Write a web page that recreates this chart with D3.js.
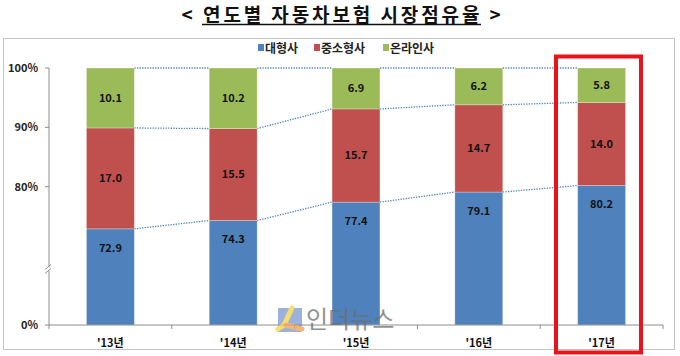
<!DOCTYPE html>
<html><head><meta charset="utf-8">
<script src="https://cdn.jsdelivr.net/npm/d3@7/dist/d3.min.js"></script>
<style>
body{margin:0;background:#fff;}
svg{display:block;font-family:"Noto Sans CJK KR","Noto Sans",sans-serif;}
</style></head>
<body><svg id="c" width="680" height="356"></svg>
<script>
const years = ["'13년","'14년","'15년","'16년","'17년"];
const large = [72.9, 74.3, 77.4, 79.1, 80.2];
const midSmall = [17.0, 15.5, 15.7, 14.7, 14.0];
const online = [10.1, 10.2, 6.9, 6.2, 5.8];
const seriesNames = ["대형사","중소형사","온라인사"];
const colors = ["#4f81bd","#c0504d","#9bbb59"];
const tickValues = [100, 90, 80];
const axisBase = 56.7;      // value at broken axis bottom (labelled 0%)
const bottomLabel = "0%";
const titleMain = "연도별 자동차보험 시장점유율";

const svg = d3.select("#c");
const L = 49, R = 663, T = 68, B = 325;

// title
const tg = svg.append("g").attr("font-size", 19).attr("font-weight", 700).attr("fill","#111");
tg.append("text").attr("x", 187).attr("y", 21.5).attr("text-anchor","middle").text("<");
const tm = tg.append("text").attr("x", 203).attr("y", 21.5).attr("text-anchor","start")
  .attr("letter-spacing", 2.9).text(titleMain);
tg.append("text").attr("x", 495).attr("y", 21.5).attr("text-anchor","middle").text(">");
svg.append("line").attr("x1", 202).attr("x2", 481).attr("y1", 24.5).attr("y2", 24.5)
  .attr("stroke","#111").attr("stroke-width",1.3);

// frame
svg.append("rect").attr("x",3.5).attr("y",38.5).attr("width",671).attr("height",311)
  .attr("fill","none").attr("stroke","#888").attr("stroke-width",1).attr("stroke-dasharray","1,1");

// legend
const lg = svg.append("g").attr("font-size",12).attr("font-weight",700);
const legX = [258, 314, 383];
seriesNames.forEach((n,i)=>{
  lg.append("rect").attr("x",legX[i]).attr("y",44).attr("width",6).attr("height",7).attr("fill",colors[i]);
  lg.append("text").attr("x",legX[i]+7).attr("y",52.5).attr("fill","#222").text(n);
});

const x = d3.scaleBand().domain(years).range([L, R]).paddingInner(0.61).paddingOuter(0.305);
const y = d3.scaleLinear().domain([axisBase, 100]).range([B, T]);

const segs = [];
years.forEach((yr,i)=>{
  const vals = [large[i], midSmall[i], online[i]];
  let acc = 0;
  vals.forEach((v,k)=>{
    const lo = k===0 ? axisBase : acc;
    acc += v;
    segs.push({year:yr, k, v, lo, hi:acc});
  });
});

// dotted connectors
const bw = x.bandwidth();
[0,1,2].forEach(k=>{
  for(let i=0;i<years.length-1;i++){
    const a = segs.find(s=>s.year===years[i]&&s.k===k);
    const b = segs.find(s=>s.year===years[i+1]&&s.k===k);
    svg.append("line").attr("x1", x(years[i])+bw).attr("x2", x(years[i+1]))
      .attr("y1", y(a.hi)).attr("y2", y(b.hi))
      .attr("stroke","#4f81bd").attr("stroke-width",1.3).attr("stroke-dasharray","1.3,1.3");
  }
});

// bars
svg.append("g").selectAll("rect").data(segs).join("rect")
  .attr("x", d=>x(d.year)).attr("width", bw)
  .attr("y", d=>y(d.hi)).attr("height", d=>y(d.lo)-y(d.hi))
  .attr("fill", d=>colors[d.k]).attr("stroke","rgba(255,255,255,0.35)").attr("stroke-width",0.8);

// labels
svg.append("g").selectAll("text").data(segs).join("text")
  .attr("x", d=>x(d.year)+bw/2)
  .attr("y", d=> d.k===0 ? y(d.hi) + 19 : y(d.hi - d.v/2))
  .attr("dy","0.35em").attr("text-anchor","middle").attr("font-size",11).attr("font-weight",700)
  .attr("fill","#111")
  .text(d=>d.v.toFixed(1));

// y axis
const ax = svg.append("g").attr("stroke","#8c8c8c");
ax.append("line").attr("x1",L).attr("x2",L).attr("y1",T).attr("y2",B);
const tickAll = tickValues.concat([axisBase]);
tickAll.forEach(v=>{
  ax.append("line").attr("x1",L-4).attr("x2",L).attr("y1",y(v)).attr("y2",y(v));
});
svg.append("g").selectAll("text").data(tickAll).join("text")
  .attr("x", 38).attr("y", d=>y(d)).attr("dy","0.35em").attr("text-anchor","end")
  .attr("font-size",11).attr("font-weight",700).attr("fill","#222")
  .text(d=> d===axisBase ? bottomLabel : d+"%");
// axis break
svg.append("rect").attr("x",L-4).attr("y",267).attr("width",8).attr("height",4).attr("fill","#fff");
[266.5, 270.5].forEach(yy=>{
  svg.append("line").attr("x1",L-4).attr("x2",L+2).attr("y1",yy+3).attr("y2",yy-2)
    .attr("stroke","#8c8c8c").attr("stroke-width",1);
});

// x axis
ax.append("line").attr("x1",L).attr("x2",R).attr("y1",B).attr("y2",B);
d3.range(years.length+1).forEach(i=>{
  const xx = L + (R-L)/years.length*i;
  ax.append("line").attr("x1",xx).attr("x2",xx).attr("y1",B).attr("y2",B+4);
});
svg.append("g").selectAll("text").data(years).join("text")
  .attr("x", d=>x(d)+bw/2).attr("y", 343).attr("dy","0.35em").attr("text-anchor","middle")
  .attr("font-size",11).attr("font-weight",700).attr("fill","#111").text(d=>d);

// watermark
const wm = svg.append("g").attr("opacity",0.75);
wm.append("rect").attr("x",278).attr("y",308).attr("width",24).attr("height",24).attr("fill","#5a7fc4").attr("opacity",0.8);
wm.append("path").attr("d","M292,308 L284,325 L278,329").attr("stroke","#f5d23c").attr("stroke-width",5).attr("fill","none").attr("stroke-linecap","round");
wm.append("path").attr("d","M286,325 L302,329").attr("stroke","#f0a050").attr("stroke-width",5).attr("fill","none").attr("stroke-linecap","round");
wm.append("text").attr("x",306).attr("y",328).attr("font-size",24).attr("fill","#6e6e6e").text("인더뉴스");

// highlight box
svg.append("rect").attr("x",556).attr("y",56.5).attr("width",85).attr("height",296)
  .attr("fill","none").attr("stroke","#e8141c").attr("stroke-width",4);
</script></body></html>
